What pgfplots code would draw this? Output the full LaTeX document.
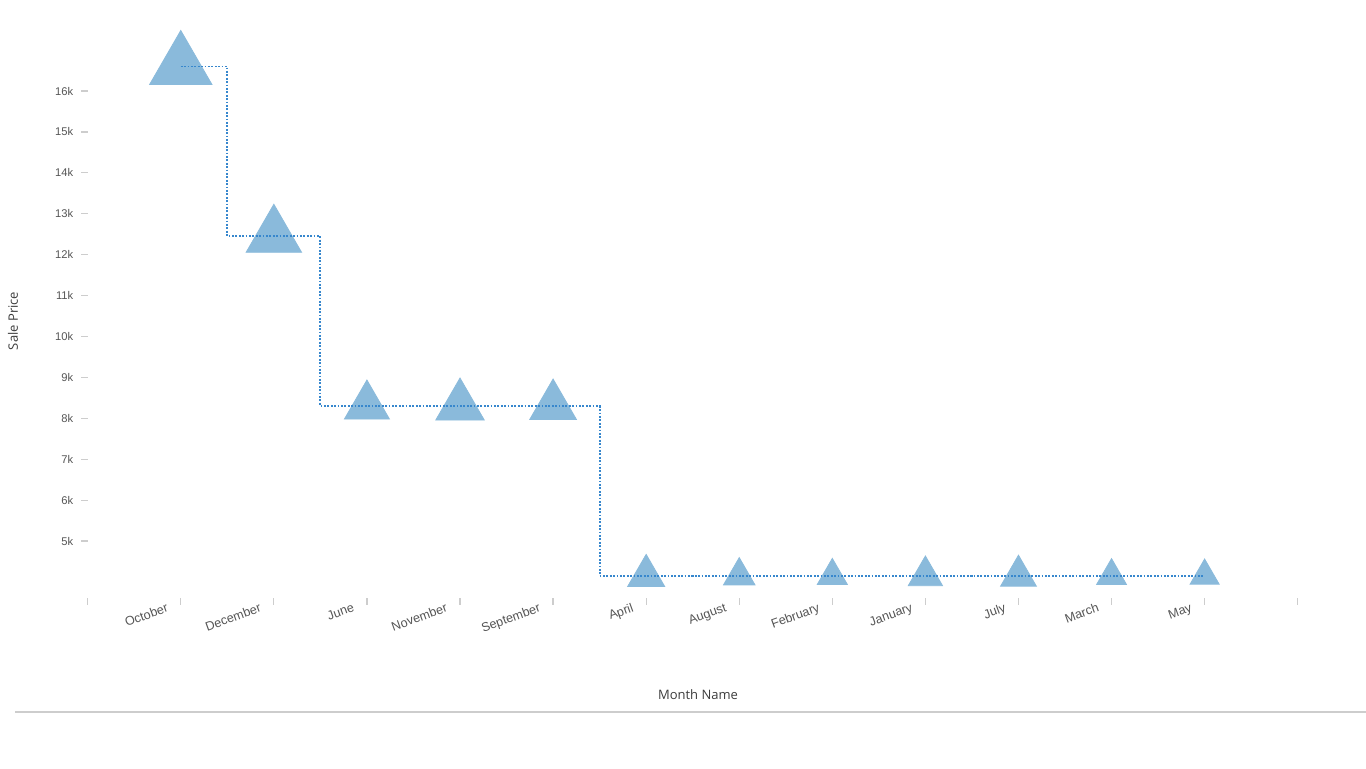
\documentclass[border=0pt]{standalone}
\usepackage{fontspec}
\setmainfont{Liberation Sans}
\newfontfamily\titlefont{Open Sans}
\usepackage{pgfplots}
\pgfplotsset{compat=1.18}
\usepackage{pgfplotstable}
\definecolor{mkfill}{RGB}{138,186,219}
\definecolor{lineblue}{RGB}{55,135,205}
\definecolor{tickgray}{RGB}{205,205,205}
\definecolor{labgray}{RGB}{85,85,85}
\definecolor{titlegray}{RGB}{60,60,60}
\pgfplotstableread{
x y s
1 16600 18
2 12450 16
3 8300 13
4 8300 14
5 8300 13.5
6 4150 10.7
7 4150 9.1
8 4150 8.7
9 4150 9.9
10 4150 10.3
11 4150 8.6
12 4150 8.4
}\datatable
\pgfplotsset{geom/.style={at={(43.85pt,84.85pt)}, anchor=south west,
  scale only axis, width=605pt, height=284.3pt,
  xmin=0, xmax=13, ymin=3600, ymax=17500, clip=false}}
\begin{document}
\begin{tikzpicture}
\useasboundingbox (0,0) rectangle (683pt,384pt);
\begin{axis}[
  geom,
  scaled y ticks=false,
  axis x line*=bottom, axis y line*=left,
  axis line style={draw=none},
  tick align=outside, major tick length=3.2pt,
  tick style={tickgray, line width=0.6pt},
  xtick={0,...,13},
  xticklabels={,October,December,June,November,September,April,August,February,January,July,March,May,},
  xticklabel style={rotate=20, anchor=north east, xshift=-3.2pt, yshift=7pt, text=labgray, font=\fontsize{6.3}{7}\selectfont},
  ytick={5000,6000,...,16000},
  yticklabels={5k,6k,7k,8k,9k,10k,11k,12k,13k,14k,15k,16k},
  yticklabel style={text=labgray, font=\fontsize{5.6}{6}\selectfont, xshift=-0.5pt},
]
\addplot[scatter, only marks, mark=triangle*,
  scatter/use mapped color={draw=mkfill, fill=mkfill},
  visualization depends on={\thisrow{s}\as\perpointmarksize},
  scatter/@pre marker code/.append style={/tikz/mark size=\perpointmarksize}]
  table[x=x, y=y] {\datatable};
\end{axis}
\begin{axis}[geom, hide axis]
\addplot[const plot mark mid, no marks, color=lineblue, line width=0.9pt,
  dash pattern=on 0.9pt off 0.8pt]
  table[x=x, y=y] {\datatable};
\end{axis}
\node[font=\titlefont\fontsize{6.5}{7}\selectfont, text=titlegray] at (349pt,36.5pt) {Month Name};
\node[font=\titlefont\fontsize{6.5}{7}\selectfont, text=titlegray, rotate=90] at (6.5pt,223.5pt) {Sale Price};
\draw[tickgray, line width=1pt] (7.5pt,28pt) -- (683pt,28pt);
\end{tikzpicture}
\end{document}
